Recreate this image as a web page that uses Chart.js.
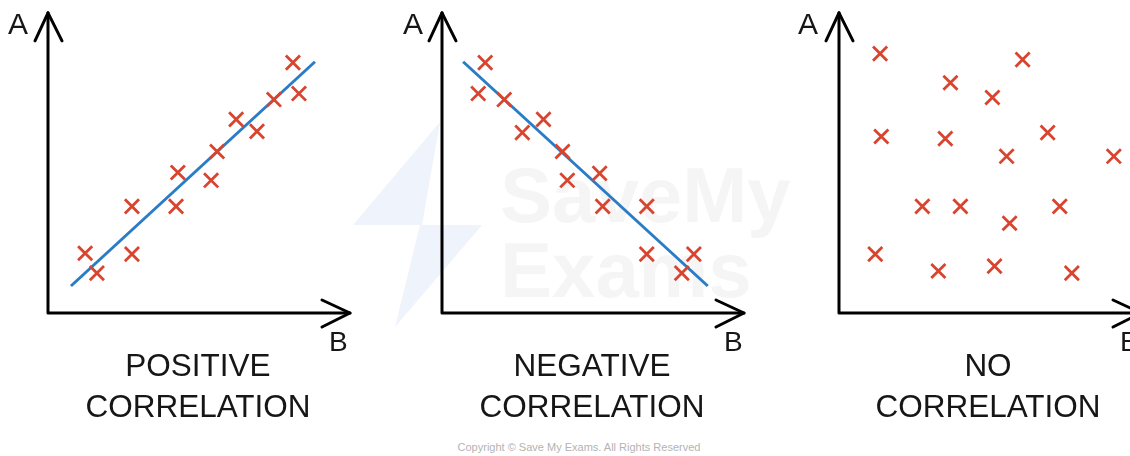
<!DOCTYPE html>
<html>
<head>
<meta charset="utf-8">
<script src="https://cdn.jsdelivr.net/npm/chart.js@4.4.1/dist/chart.umd.min.js"></script>
<style>
  body { margin: 0; width: 1130px; height: 456px; overflow: hidden; background: #fff; position: relative; font-family: "Liberation Sans", Arial, sans-serif; }
  canvas { position: absolute; top: 0; }
  .lbl { position: absolute; color: #161616; white-space: nowrap; }
  .axisA { font-size: 30px; line-height: 30px; top: 9px; }
  .axisB { font-size: 28px; line-height: 28px; top: 328px; }
  .title { font-size: 31.5px; line-height: 41px; top: 345px; width: 400px; text-align: center; }
  .copy { position: absolute; left: 379px; width: 400px; top: 441px; text-align: center; font-size: 11px; color: #b3b3b3; }
  #wm { position: absolute; left: 0; top: 0; }
</style>
</head>
<body>
<svg id="wm" width="1130" height="456">
  <polygon points="440,122 353,225 422,225" fill="#eef3fc"/>
  <polygon points="420,225 482,225 395,327" fill="#eef3fc"/>
  <text x="500" y="222" font-family="Liberation Sans" font-weight="bold" font-size="78" fill="#f5f5f5">SaveMy</text>
  <text x="500" y="297" font-family="Liberation Sans" font-weight="bold" font-size="78" fill="#f5f5f5">Exams</text>
</svg>

<canvas id="c1" width="380" height="330" style="left:0px"></canvas>
<canvas id="c2" width="380" height="330" style="left:394px"></canvas>
<canvas id="c3" width="380" height="330" style="left:791px"></canvas>

<div class="lbl axisA" style="left:8px">A</div>
<div class="lbl axisA" style="left:403px">A</div>
<div class="lbl axisA" style="left:798px">A</div>
<div class="lbl axisB" style="left:329px">B</div>
<div class="lbl axisB" style="left:724px">B</div>
<div class="lbl axisB" style="left:1120px">B</div>

<div class="lbl title" style="left:-2px">POSITIVE<br>CORRELATION</div>
<div class="lbl title" style="left:392px">NEGATIVE<br>CORRELATION</div>
<div class="lbl title" style="left:788px">NO<br>CORRELATION</div>

<div class="copy">Copyright © Save My Exams. All Rights Reserved</div>

<script>
// values, axis corner = (0,0), arrow tips = 10
const posX = [1.23, 1.62, 2.78, 2.78, 4.30, 4.24, 5.40, 5.60, 6.23, 6.92, 7.48, 8.11, 8.31];
const posY = [1.99, 1.33, 3.55, 1.96, 4.68, 3.55, 4.42, 5.38, 6.45, 6.05, 7.11, 8.34, 7.31];
const posLineX = [0.76, 8.84];
const posLineY = [0.90, 8.37];

const negX = [1.43, 1.20, 2.06, 2.66, 3.36, 3.99, 4.15, 5.22, 5.32, 6.78, 6.78, 8.34, 7.94];
const negY = [8.34, 7.31, 7.11, 6.01, 6.45, 5.38, 4.42, 4.65, 3.55, 3.55, 1.96, 1.96, 1.33];
const negLineX = [0.70, 8.80];
const negLineY = [8.37, 0.90];

const noneX = [1.36, 3.69, 6.08, 5.08, 1.40, 3.52, 6.91, 5.55, 9.10, 2.76, 4.02, 7.31, 5.65, 1.20, 3.29, 5.15, 7.71];
const noneY = [8.64, 7.67, 8.44, 7.18, 5.88, 5.81, 6.01, 5.22, 5.22, 3.55, 3.55, 3.55, 2.99, 1.96, 1.40, 1.56, 1.33];

const RED = '#d9442f';
const BLUE = '#2b7cc6';

const toPoints = (xs, ys) => xs.map((x, i) => ({ x: x, y: ys[i] }));

// hand-drawn looking axes with open arrow heads
const arrowAxes = {
  id: 'arrowAxes',
  beforeDatasetsDraw(chart) {
    const { ctx, chartArea } = chart;
    const l = chartArea.left, b = chartArea.bottom, t = chartArea.top, r = chartArea.right;
    ctx.save();
    ctx.strokeStyle = '#000';
    ctx.lineWidth = 3;
    ctx.lineCap = 'round';
    ctx.lineJoin = 'round';
    ctx.beginPath();
    ctx.moveTo(l, t);
    ctx.lineTo(l, b);
    ctx.lineTo(r, b);
    ctx.stroke();
    ctx.beginPath();
    ctx.moveTo(l - 13, t + 28);
    ctx.lineTo(l, t);
    ctx.lineTo(l + 14, t + 28);
    ctx.stroke();
    ctx.beginPath();
    ctx.moveTo(r - 28, b - 13);
    ctx.lineTo(r, b);
    ctx.lineTo(r - 28, b + 14);
    ctx.stroke();
    ctx.restore();
  }
};

function makePanel(id, xs, ys, lineXs, lineYs) {
  const datasets = [{
    type: 'scatter',
    data: toPoints(xs, ys),
    pointStyle: 'crossRot',
    pointRadius: 10,
    borderColor: RED,
    borderWidth: 2.8,
    clip: false,
    order: 1
  }];
  if (lineXs) {
    // trend line sits under the crosses
    datasets.push({
      type: 'line',
      data: toPoints(lineXs, lineYs),
      borderColor: BLUE,
      borderWidth: 3,
      pointRadius: 0,
      fill: false,
      clip: false,
      order: 2
    });
  }
  return new Chart(document.getElementById(id), {
    type: 'scatter',
    data: { datasets: datasets },
    options: {
      responsive: false,
      animation: false,
      devicePixelRatio: 1,
      layout: { padding: { left: 48, right: 30, top: 12, bottom: 17 } },
      scales: {
        x: { type: 'linear', min: 0, max: 10, display: false },
        y: { type: 'linear', min: 0, max: 10, display: false }
      },
      plugins: { legend: { display: false }, tooltip: { enabled: false } }
    },
    plugins: [arrowAxes]
  });
}

makePanel('c1', posX, posY, posLineX, posLineY);
makePanel('c2', negX, negY, negLineX, negLineY);
makePanel('c3', noneX, noneY);
</script>
</body>
</html>
